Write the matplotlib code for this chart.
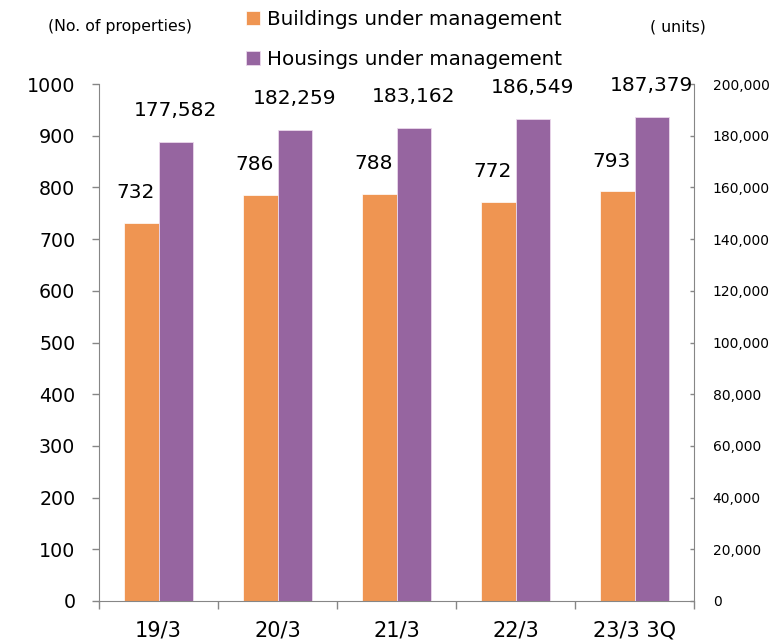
import matplotlib
matplotlib.use("Agg")
import matplotlib.pyplot as plt
import numpy as np

categories = ["19/3", "20/3", "21/3", "22/3", "23/3 3Q"]
buildings = [732, 786, 788, 772, 793]
housings = [177582, 182259, 183162, 186549, 187379]

ORANGE = "#EF9552"
PURPLE = "#9665A0"
GRAY = "#868686"

fig = plt.figure(figsize=(7.73, 6.43), dpi=100)
ax = fig.add_axes([99 / 773, 42 / 643, 595 / 773, 517 / 643])
ax2 = ax.twinx()

x = np.arange(len(categories))
w = 0.286

b1 = ax.bar(x - w / 2, buildings, w, color=ORANGE, edgecolor="white", linewidth=0.5,
            label="Buildings under management")
b2 = ax2.bar(x + w / 2, housings, w, color=PURPLE, edgecolor="#EBD8EB", linewidth=0.6,
             label="Housings under management")

ax.set_xlim(-0.5, len(categories) - 0.5)
ax.set_ylim(0, 1000)
ax2.set_ylim(0, 200000)

ax.set_yticks(np.arange(0, 1001, 100))
ax2.set_yticks(np.arange(0, 200001, 20000))
ax2.set_yticklabels([f"{v:,}" for v in range(0, 200001, 20000)])

ax.set_xticks(x)
ax.set_xticklabels(categories, fontsize=15)
ax.set_xticks(np.arange(-0.5, len(categories)), minor=True)
ax.tick_params(axis="x", which="major", length=0, pad=14)
ax.tick_params(axis="x", which="minor", length=6, width=1, color=GRAY, direction="out")
ax.tick_params(axis="y", length=5, width=1, color=GRAY, pad=12, labelsize=13.7)
ax2.tick_params(axis="y", length=3, width=1, color=GRAY, direction="in", pad=13.5, labelsize=10)

for a in (ax, ax2):
    a.spines["top"].set_visible(False)
    for s in ("left", "right", "bottom"):
        a.spines[s].set_color(GRAY)
ax.spines["right"].set_visible(False)
ax2.spines["left"].set_visible(False)
ax2.spines["bottom"].set_visible(False)

for xi, v in zip(x, buildings):
    ax.annotate(f"{v}", (xi - w / 2, v), xytext=(-6, 30), textcoords="offset pixels",
                ha="center", va="center", fontsize=14.5)
for xi, v in zip(x, housings):
    ax2.annotate(f"{v:,}", (xi + w / 2, v), xytext=(0, 31), textcoords="offset pixels",
                 ha="center", va="center", fontsize=14.5, annotation_clip=False)

fig.legend(handles=[b1, b2], loc="upper left", bbox_to_anchor=(246 / 773, 1 - 10 / 643),
           frameon=False, fontsize=14.3, handlelength=0.72, handleheight=0.72,
           handletextpad=0.35, labelspacing=1.05, borderpad=0, borderaxespad=0)

fig.text(120 / 773, 1 - 27 / 643, "(No. of properties)", ha="center", va="center", fontsize=11.3)
fig.text(678 / 773, 1 - 27 / 643, "( units)", ha="center", va="center", fontsize=11.3)

fig.savefig("out.png", dpi=100)
